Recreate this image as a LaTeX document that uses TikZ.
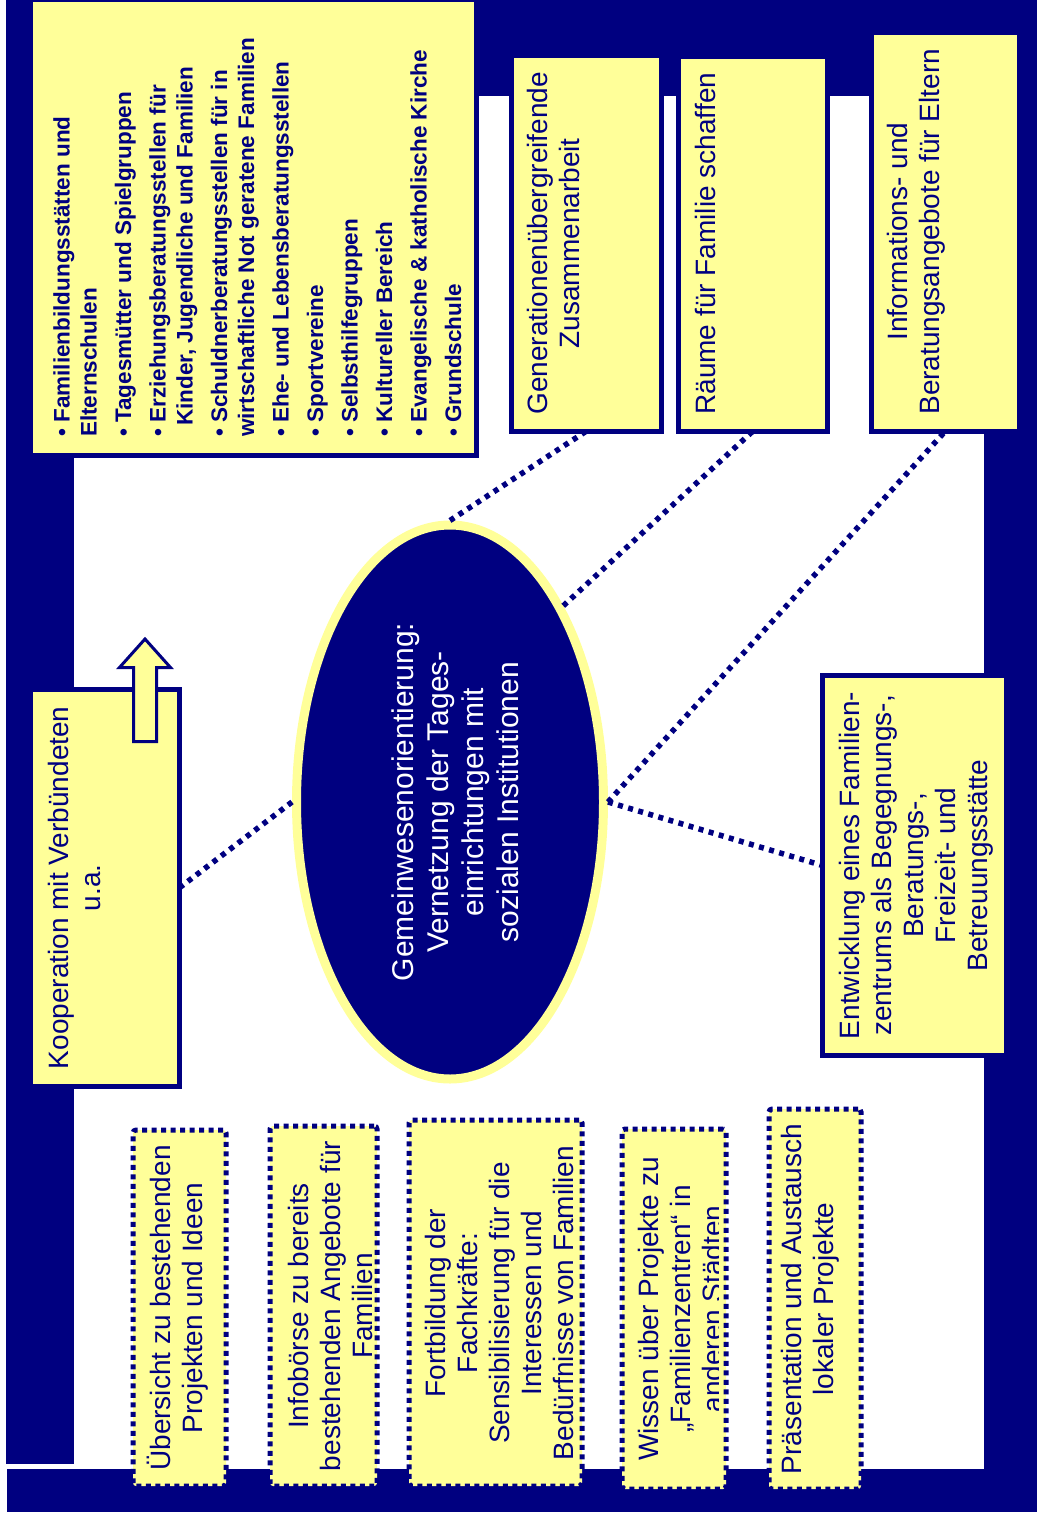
\documentclass[tikz,border=0pt]{standalone}
\usepackage{fontspec}
\setmainfont{Liberation Sans}
\usetikzlibrary{shapes.geometric}
\definecolor{navy}{RGB}{0,0,128}
\definecolor{paleyellow}{RGB}{255,255,153}
\tikzset{
    band/.style = {fill=navy},
    box/.style = {draw=navy,fill=paleyellow,line width=5pt,inner sep=0,outer sep=0},
    dotbox/.style = {draw=navy,fill=paleyellow,line width=5pt,dash pattern=on 5pt off 4.5pt,rounded corners=3pt,inner sep=0,outer sep=0},
    hub/.style = {ellipse,draw=paleyellow,fill=navy,line width=9pt,inner sep=0},
    link/.style = {draw=navy,line width=5.5pt,dash pattern=on 5pt off 5.5pt},
    arrowshape/.style = {draw=navy,fill=paleyellow,line width=3pt},
    boxtext/.style = {rotate=90,anchor=base,align=center,inner sep=0,text=navy,font=\fontsize{28}{32}\selectfont}
}
\begin{document}
\begin{tikzpicture}[x=1pt,y=-1pt]
    \useasboundingbox (0,0) rectangle (1037,1517);
    % Frame
    \fill[band] (6,0) rectangle (1037,96);
    \fill[band] (6,0) rectangle (74,1464);
    \fill[band] (984,0) rectangle (1037,1512);
    \fill[band] (7,1469) rectangle (1037,1512);
    % Boxes
    \node[box,minimum width=446pt,minimum height=456pt] (lst) at (253.5,227.5) {};
    \node[box,minimum width=150pt,minimum height=375.5pt] (gen) at (586.5,243.25) {};
    \node[box,minimum width=149pt,minimum height=374.5pt] (rae) at (753,243.75) {};
    \node[box,minimum width=148pt,minimum height=398.5pt] (inf) at (945.5,231.75) {};
    \node[box,minimum width=149pt,minimum height=396.5pt] (koop) at (105,887.75) {};
    \node[box,minimum width=184pt,minimum height=380pt] (entw) at (914.5,865.5) {};
    \node[hub,minimum width=307pt,minimum height=554pt] (ctr) at (450,802) {};
    % Topics
    \node[dotbox,minimum width=93pt,minimum height=356pt] (ueb) at (179.5,1308) {};
    \node[dotbox,minimum width=107pt,minimum height=360pt] (infb) at (323.5,1306) {};
    \node[dotbox,minimum width=173pt,minimum height=366pt] (fort) at (495.5,1303) {};
    \node[dotbox,minimum width=104pt,minimum height=360pt] (wiss) at (674,1309) {};
    \node[dotbox,minimum width=92pt,minimum height=380pt] (praes) at (815,1299) {};
    % Arrow
    \draw[arrowshape] ([xshift=28.5pt,yshift=-52pt]koop.north)
        -- ++(0,-74) -- ++(-14,0) -- ++(25.5,-28.5)
        -- ++(25.5,28.5) -- ++(-14,0) -- ++(0,74) -- cycle;
    % Texts (base = last line)
    \node[boxtext,align=left,anchor=base west,font=\fontsize{22.5}{27}\selectfont\bfseries]
        (lstT) at ([xshift=430.5pt,yshift=18.5pt]lst.south west) {%
        • Familienbildungsstätten und\\
        Elternschulen\\[7.5pt]
        • Tagesmütter und Spielgruppen\\[7.5pt]
        • Erziehungsberatungsstellen für\\
        \hspace*{11pt}Kinder, Jugendliche und Familien\\[7.5pt]
        • Schuldnerberatungsstellen für in\\
        wirtschaftliche Not geratene Familien\\[7.5pt]
        • Ehe- und Lebensberatungsstellen\\[7.5pt]
        • Sportvereine\\[7.5pt]
        • Selbsthilfegruppen\\[7.5pt]
        • Kultureller Bereich\\[7.5pt]
        • Evangelische \& katholische Kirche\\[7.5pt]
        • Grundschule};
    \node[boxtext] (genT) at ([xshift=67.5pt]gen.west) {Generationenübergreifende\\Zusammenarbeit};
    \node[boxtext] (raeT) at ([xshift=36.5pt]rae.west) {Räume für Familie schaffen};
    \node[boxtext] (infT) at ([xshift=67.5pt]inf.west) {Informations- und\\Beratungsangebote für Eltern};
    \node[boxtext] (koopT) at ([xshift=69.5pt]koop.west) {Kooperation mit Verbündeten\\u.a.};
    \node[boxtext] (entwT) at ([xshift=164.5pt]entw.west) {Entwicklung eines Familien-\\zentrums als Begegnungs-,\\Beratungs-,\\Freizeit- und\\Betreuungsstätte};
    \node[boxtext,text=white,font=\fontsize{30}{35}\selectfont] (ctrT) at ([xshift=68pt]ctr.center)
        {Gemeinwesenorientierung:\\Vernetzung der Tages-\\einrichtungen mit\\sozialen Institutionen};
    \node[boxtext] (uebT) at ([xshift=69pt]ueb.west) {Übersicht zu bestehenden\\Projekten und Ideen};
    \node[boxtext] (infbT) at ([xshift=102pt]infb.west) {Infobörse zu bereits\\bestehenden Angebote für\\Familien};
    \node[boxtext] (fortT) at ([xshift=164pt]fort.west) {Fortbildung der\\Fachkräfte:\\Sensibilisierung für die\\Interessen und\\Bedürfnisse von Familien};
    \begin{scope}
        \clip (wiss.north west) rectangle ([xshift=-8pt]wiss.south east);
        \node[boxtext] (wissT) at ([xshift=100pt]wiss.west) {Wissen über Projekte zu\\„Familienzentren“ in\\anderen Städten};
    \end{scope}
    \node[boxtext] (praesT) at ([xshift=64pt]praes.west) {Präsentation und Austausch\\lokaler Projekte};
    % Links
    \foreach \src/\dest in {koop.east/ctr.west,ctr.north/gen.south,ctr.60/rae.south,ctr.east/inf.south,ctr.east/entw.west}
        \draw[link] (\src) -- (\dest);
\end{tikzpicture}
\end{document}
